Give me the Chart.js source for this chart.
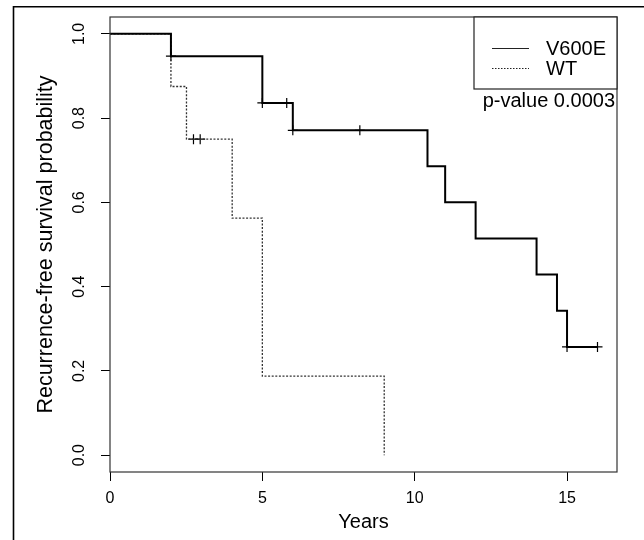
<!DOCTYPE html>
<html>
<head>
<meta charset="utf-8">
<script src="https://cdn.jsdelivr.net/npm/chart.js@4/dist/chart.umd.min.js"></script>
<style>
  html, body { margin: 0; padding: 0; background: #fff; }
  canvas { display: block; }
</style>
</head>
<body>
<canvas id="c" width="644" height="540"></canvas>
<script>
// ---- Data ----
const seriesNames = ["V600E", "WT"];
const v600eTimes = [0, 2.0, 5.0, 6.0, 10.42, 11.0, 12.0, 14.0, 14.67, 15.0, 16.0];
const v600eSurv  = [1.0, 0.947, 0.836, 0.771, 0.686, 0.600, 0.514, 0.429, 0.343, 0.257, 0.257];
const v600eCensorTimes = [2.0, 5.0, 5.8, 6.0, 8.2, 15.0, 16.0];
const v600eCensorSurv  = [0.947, 0.836, 0.836, 0.771, 0.771, 0.257, 0.257];
const wtTimes = [0, 2.0, 2.51, 4.01, 5.0, 9.0];
const wtSurv  = [1.0, 0.875, 0.75, 0.5625, 0.1875, 0.0];
const wtCensorTimes = [2.74, 2.96];
const wtCensorSurv  = [0.75, 0.75];
const xTicks = [0, 5, 10, 15];
const yTicks = [0.0, 0.2, 0.4, 0.6, 0.8, 1.0];
const xTitle = "Years";
const yTitle = "Recurrence-free survival probability";
const pValueText = "p-value 0.0003";

const FONT = "'Liberation Sans', Arial, Helvetica, sans-serif";
const toXY = (xs, ys) => xs.map((x, i) => ({ x: x, y: ys[i] }));

const framePlugin = {
  id: 'frame',
  beforeDraw(chart) {
    const ctx = chart.ctx;
    ctx.save();
    ctx.strokeStyle = '#000';
    ctx.lineWidth = 1.6;
    ctx.beginPath();
    ctx.moveTo(13.5, 540);
    ctx.lineTo(13.5, 6.8);
    ctx.lineTo(644, 6.8);
    ctx.stroke();
    ctx.restore();
  },
  afterDraw(chart) {
    const ctx = chart.ctx;
    const a = chart.chartArea;
    ctx.save();
    // plot box
    ctx.strokeStyle = '#333';
    ctx.lineWidth = 1.2;
    ctx.strokeRect(a.left, a.top, a.right - a.left, a.bottom - a.top);
    // axis titles (centred on the plot region, as R does)
    ctx.fillStyle = '#000';
    ctx.textAlign = 'center';
    ctx.textBaseline = 'middle';
    ctx.font = "20px " + FONT;
    ctx.fillText(xTitle, (a.left + a.right) / 2, 522);
    ctx.save();
    ctx.translate(46, (a.top + a.bottom) / 2);
    ctx.rotate(-Math.PI / 2);
    ctx.font = "21.5px " + FONT;
    ctx.fillText(yTitle, 0, 0);
    ctx.restore();
    // legend box
    const lx = 474, ly = a.top, lw = a.right - 474, lh = 72;
    ctx.fillStyle = '#fff';
    ctx.fillRect(lx, ly, lw, lh);
    ctx.strokeStyle = '#222';
    ctx.lineWidth = 1.2;
    ctx.strokeRect(lx, ly, lw, lh);
    const ds = chart.data.datasets;
    const rows = [ly + 31, ly + 51];
    [0, 1].forEach((k) => {
      ctx.beginPath();
      ctx.strokeStyle = '#222';
      ctx.lineWidth = 1;
      ctx.setLineDash(k === 1 ? [1.5, 1.5] : []);
      ctx.moveTo(492, rows[k] + 0.5);
      ctx.lineTo(529, rows[k] + 0.5);
      ctx.stroke();
      ctx.setLineDash([]);
      ctx.fillStyle = '#000';
      ctx.font = "20px " + FONT;
      ctx.textBaseline = 'middle';
      ctx.textAlign = 'left';
      ctx.fillText(ds[k].label, 546, rows[k] + 1);
    });
    ctx.font = "20px " + FONT;
    ctx.textAlign = 'right';
    ctx.textBaseline = 'middle';
    ctx.fillStyle = '#000';
    ctx.fillText(pValueText, a.right - 2, 101);
    ctx.restore();
  }
};

new Chart(document.getElementById('c'), {
  type: 'line',
  data: {
    datasets: [
      {
        label: seriesNames[0],
        data: toXY(v600eTimes, v600eSurv),
        stepped: 'before',
        borderColor: '#000',
        borderWidth: 2,
        pointRadius: 0,
        fill: false
      },
      {
        label: seriesNames[1],
        data: toXY(wtTimes, wtSurv),
        stepped: 'before',
        borderColor: '#333',
        borderWidth: 1.3,
        borderDash: [2, 1.6],
        pointRadius: 0,
        fill: false
      },
      {
        type: 'scatter',
        label: 'V600E censored',
        data: toXY(v600eCensorTimes, v600eCensorSurv),
        pointStyle: 'cross',
        pointRadius: 5,
        borderColor: '#000',
        borderWidth: 1.2,
        showLine: false
      },
      {
        type: 'scatter',
        label: 'WT censored',
        data: toXY(wtCensorTimes, wtCensorSurv),
        pointStyle: 'cross',
        pointRadius: 5,
        borderColor: '#000',
        borderWidth: 1.2,
        showLine: false
      }
    ]
  },
  options: {
    responsive: false,
    devicePixelRatio: 1,
    animation: false,
    layout: { padding: { top: 17, right: 27, left: 0, bottom: 0 } },
    plugins: { legend: { display: false }, tooltip: { enabled: false } },
    elements: { line: { tension: 0 } },
    scales: {
      x: {
        type: 'linear',
        min: 0,
        max: 16.64,
        afterBuildTicks: (s) => { s.ticks = xTicks.map(v => ({ value: v })); },
        afterFit: (s) => { s.height = 68; s.paddingLeft = 0; s.paddingRight = 0; },
        grid: { drawOnChartArea: false, drawTicks: true, tickLength: 9, color: '#000', lineWidth: 1 },
        border: { display: false },
        ticks: {
          autoSkip: false, maxRotation: 0, minRotation: 0, padding: 8,
          color: '#000', font: { family: FONT, size: 16 },
          callback: (v) => String(v)
        },
        title: { display: false }
      },
      y: {
        type: 'linear',
        min: -0.04,
        max: 1.04,
        afterBuildTicks: (s) => { s.ticks = yTicks.map(v => ({ value: v })); },
        afterFit: (s) => { s.width = 110; s.paddingTop = 0; s.paddingBottom = 0; },
        grid: { drawOnChartArea: false, drawTicks: true, tickLength: 9, color: '#000', lineWidth: 1 },
        border: { display: false },
        ticks: {
          autoSkip: false, minRotation: 90, maxRotation: 90, crossAlign: 'center', padding: 10,
          color: '#000', font: { family: FONT, size: 16 },
          callback: (v) => Number(v).toFixed(1)
        },
        title: { display: false }
      }
    }
  },
  plugins: [framePlugin]
});
</script>
</body>
</html>
